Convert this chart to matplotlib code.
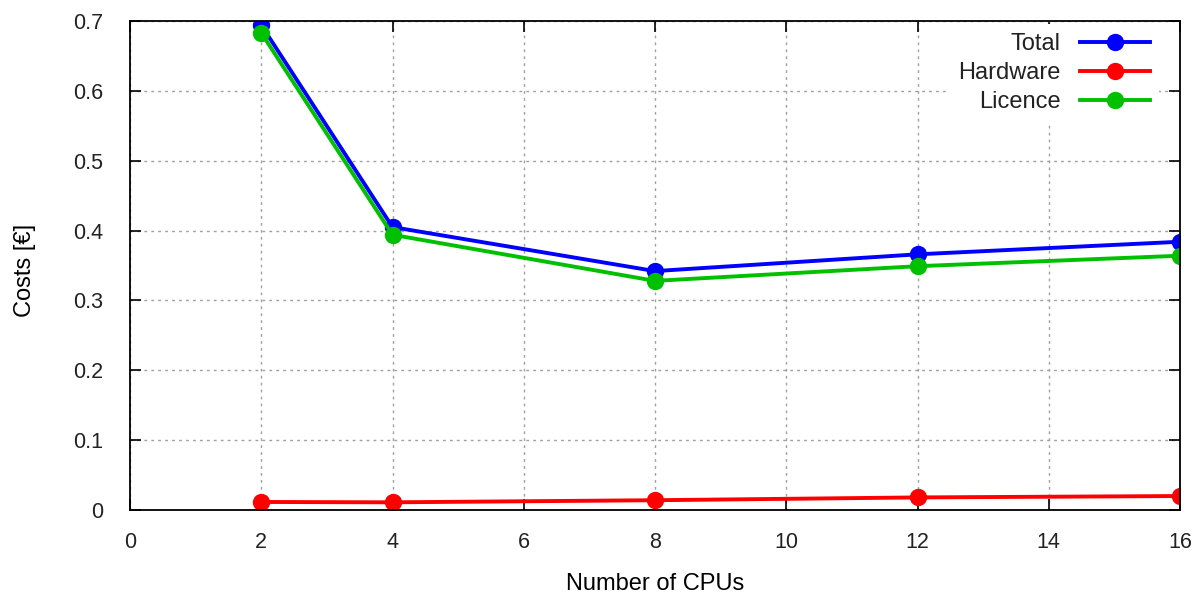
import matplotlib
matplotlib.use("Agg")
import matplotlib.pyplot as plt

plt.rcParams['font.family'] = ['Liberation Sans', 'DejaVu Sans']
plt.rcParams['text.color'] = '#222222'

cpus = [2, 4, 8, 12, 16]
total = [0.694, 0.405, 0.342, 0.366, 0.384]
hardware = [0.0115, 0.011, 0.014, 0.018, 0.020]
licence = [0.683, 0.394, 0.328, 0.349, 0.364]

series = [
    ("Total", total, "#0000ff"),
    ("Hardware", hardware, "#ff0000"),
    ("Licence", licence, "#00c000"),
]

fig = plt.figure(figsize=(11.99, 5.97), dpi=100)
ax = fig.add_axes([130 / 1199, 87 / 597, 1050 / 1199, 489 / 597])

for name, vals, col in series:
    ax.plot(cpus, vals, color=col, lw=2.8, marker='o', ms=12.5,
            markeredgewidth=0, label=name, zorder=3)

ax.set_xlim(0, 16)
ax.set_ylim(0, 0.7)
ax.set_xticks(range(0, 17, 2))
ax.set_yticks([0, 0.1, 0.2, 0.3, 0.4, 0.5, 0.6, 0.7])
ax.set_yticklabels(["0", "0.1", "0.2", "0.3", "0.4", "0.5", "0.6", "0.7"])

ax.grid(True, color="#a0a0a0", linestyle=(0, (2, 3)), linewidth=1.0)
ax.tick_params(direction='in', length=8, width=1.2, top=True, right=True,
               labelsize=15.5, colors='black', labelcolor='#222222')
ax.tick_params(axis='x', pad=16)
ax.tick_params(axis='y', pad=19.5)
for s in ax.spines.values():
    s.set_linewidth(1.3)
    s.set_zorder(4)

ax.set_xlabel("Number of CPUs", fontsize=17, va='center')
ax.xaxis.set_label_coords(0.5, -0.151)
ax.set_ylabel("Costs [€]", fontsize=17, va='center')
ax.yaxis.set_label_coords(-0.1, 0.49)

# key on an opaque white box without border, under the frame lines
leg = ax.legend(loc='upper right', bbox_to_anchor=(0.9804, 0.9947),
                frameon=True, facecolor='white', edgecolor='none',
                framealpha=1.0, fancybox=False, fontsize=17,
                markerfirst=False, handlelength=2.95, borderaxespad=0,
                borderpad=0.4, labelspacing=0.3, handletextpad=0.85)
for t in leg.get_texts():
    t.set_ha('right')
leg.set_zorder(2)

fig.savefig("out.png", dpi=100)
